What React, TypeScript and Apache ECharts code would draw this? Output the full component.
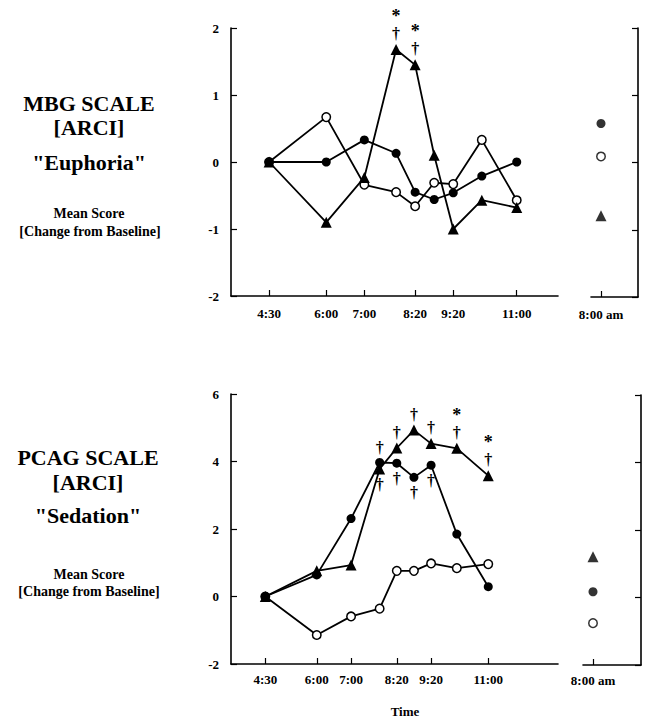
import React, { useEffect, useRef } from "react";
import * as echarts from "echarts";

// Time points (minutes after midnight)
const timePoints = [270, 360, 420, 470, 500, 530, 560, 605, 660];
const tickTimes = [270, 360, 420, 500, 560, 660];
const followUpTime = 480;
const followUpLabel = "8:00 am";

// MBG scale ("Euphoria")
const mbgFilled = [0, 0, 0.33, 0.13, -0.45, -0.56, -0.46, -0.21, 0];
const mbgOpen = [0, 0.67, -0.34, -0.45, -0.66, -0.31, -0.33, 0.33, -0.57];
const mbgTriangle = [0, -0.9, -0.23, 1.68, 1.45, 0.1, -1.0, -0.57, -0.68];
const mbgTriangleSig = ["", "", "", "*†", "*†", "", "", "", ""];
const mbgFollowFilled = 0.58;
const mbgFollowOpen = 0.09;
const mbgFollowTriangle = -0.79;

// PCAG scale ("Sedation")
const pcagFilled = [0, 0.64, 2.31, 3.97, 3.95, 3.53, 3.89, 1.85, 0.29];
const pcagOpen = [0, -1.14, -0.59, -0.36, 0.76, 0.76, 0.98, 0.84, 0.96];
const pcagTriangle = [0, 0.76, 0.93, 3.78, 4.4, 4.93, 4.53, 4.39, 3.58];
const pcagTriangleSig = ["", "", "", "†", "†", "†", "†", "*†", "*†"];
const pcagFilledSig = ["", "", "", "†", "†", "†", "†", "", ""];
const pcagFollowFilled = 0.17;
const pcagFollowOpen = -0.76;
const pcagFollowTriangle = 1.21;

const mbgTicks = { min: -2, max: 2, interval: 1 };
const pcagTicks = { min: -2, max: 6, interval: 2 };

const FONT = "'Liberation Serif', 'Times New Roman', serif";

const fmtTime = (m: number) => `${Math.floor(m / 60)}:${String(m % 60).padStart(2, "0")}`;

type Kind = "filled" | "open" | "triangle";

const symbolStyle = (kind: Kind) => {
  if (kind === "filled") return { symbol: "circle", symbolSize: 9, itemStyle: { color: "#000" } };
  if (kind === "open")
    return {
      symbol: "circle",
      symbolSize: 8.5,
      itemStyle: { color: "#fff", borderColor: "#000", borderWidth: 1.5 },
    };
  return { symbol: "triangle", symbolSize: 11, itemStyle: { color: "#000" } };
};

const sigRich = {
  s: { fontFamily: FONT, fontWeight: "bold", fontSize: 18, lineHeight: 18, color: "#000" },
  d: { fontFamily: FONT, fontWeight: "bold", fontSize: 16, lineHeight: 17, color: "#000" },
};

const lineSeries = (
  kind: Kind,
  vals: number[],
  axis: number,
  sig?: string[],
  other?: number[],
  z = 2
) => ({
  type: "line",
  xAxisIndex: axis,
  yAxisIndex: axis,
  z,
  ...symbolStyle(kind),
  lineStyle: { color: "#000", width: 1.8 },
  data: timePoints.map((t, i) => {
    const s = sig ? sig[i] : "";
    if (!s) return { value: [t, vals[i]] };
    const pos = other && vals[i] < other[i] ? "bottom" : "top";
    return {
      value: [t, vals[i]],
      label: {
        show: true,
        position: pos,
        distance: 2,
        formatter: s
          .split("")
          .map((c) => (c === "*" ? `{s|*}` : `{d|†}`))
          .join("\n"),
        rich: sigRich,
        color: "#000",
      },
    };
  }),
});

const followSeries = (kind: Kind, v: number, axis: number) => ({
  type: "scatter",
  xAxisIndex: axis,
  yAxisIndex: axis,
  ...symbolStyle(kind),
  data: [[followUpTime, v]],
});

const axisLine = { show: true, onZero: false, lineStyle: { color: "#000", width: 1.6 } };
const labelStyle = { fontFamily: FONT, fontWeight: "bold", fontSize: 13, color: "#000" };

const mainX = (grid: number, max: number, margin: number) => ({
  gridIndex: grid,
  type: "value",
  min: 210,
  max,
  axisLine,
  splitLine: { show: false },
  axisTick: {
    show: true,
    inside: true,
    length: 6,
    customValues: tickTimes,
    lineStyle: { color: "#000", width: 1.2 },
  },
  axisLabel: { ...labelStyle, margin, customValues: tickTimes, formatter: (v: number) => fmtTime(v) },
});

const followX = (grid: number, max: number, margin: number) => ({
  gridIndex: grid,
  type: "value",
  min: 470,
  max,
  axisLine,
  splitLine: { show: false },
  axisTick: {
    show: true,
    inside: true,
    length: 6,
    customValues: [followUpTime],
    lineStyle: { color: "#000", width: 1.2 },
  },
  axisLabel: { ...labelStyle, margin, customValues: [followUpTime], formatter: () => followUpLabel },
});

const yAx = (grid: number, t: { min: number; max: number; interval: number }, right: boolean) => ({
  gridIndex: grid,
  type: "value",
  position: right ? "right" : "left",
  min: t.min,
  max: t.max,
  interval: t.interval,
  axisLine,
  splitLine: { show: false },
  axisTick: { show: true, inside: true, length: 6, lineStyle: { color: "#000", width: 1.2 } },
  axisLabel: right ? { show: false } : { ...labelStyle, margin: 12 },
});

const text = (x: number, y: number, s: string, size: number) => ({
  type: "text",
  x,
  y,
  style: {
    text: s,
    font: `bold ${size}px ${FONT}`,
    fill: "#000",
    align: "center",
    verticalAlign: "middle",
  },
});

export default function App() {
  const ref = useRef<HTMLDivElement>(null);
  useEffect(() => {
    document.body.style.margin = "0";
    if (!ref.current) return;
    const chart = echarts.init(ref.current, undefined, { renderer: "svg" });
    chart.setOption({
      animation: false,
      backgroundColor: "#fff",
      grid: [
        { left: 231, top: 28, width: 327, height: 268 },
        { left: 591, top: 28, width: 47, height: 269 },
        { left: 231, top: 394, width: 327, height: 270 },
        { left: 583, top: 395, width: 58, height: 270 },
      ],
      xAxis: [mainX(0, 725, 11), followX(1, 517, 11), mainX(2, 782, 9), followX(3, 528, 9)],
      yAxis: [yAx(0, mbgTicks, false), yAx(1, mbgTicks, true), yAx(2, pcagTicks, false), yAx(3, pcagTicks, true)],
      series: [
        lineSeries("open", mbgOpen, 0),
        lineSeries("filled", mbgFilled, 0),
        lineSeries("triangle", mbgTriangle, 0, mbgTriangleSig, mbgFilled, 3),
        followSeries("filled", mbgFollowFilled, 1),
        followSeries("open", mbgFollowOpen, 1),
        followSeries("triangle", mbgFollowTriangle, 1),
        lineSeries("open", pcagOpen, 2),
        lineSeries("filled", pcagFilled, 2, pcagFilledSig, pcagTriangle),
        lineSeries("triangle", pcagTriangle, 2, pcagTriangleSig, pcagFilled, 3),
        followSeries("filled", pcagFollowFilled, 3),
        followSeries("open", pcagFollowOpen, 3),
        followSeries("triangle", pcagFollowTriangle, 3),
      ],
      graphic: [
        text(89, 103, "MBG SCALE", 22),
        text(89, 127.5, "[ARCI]", 22),
        text(89, 162.5, '"Euphoria"', 22),
        text(89, 213, "Mean Score", 14),
        text(90, 231.5, "[Change from Baseline]", 14),
        text(88, 457, "PCAG SCALE", 22),
        text(88, 482, "[ARCI]", 22),
        text(88, 515, '"Sedation"', 22),
        text(89, 574, "Mean Score", 14),
        text(89, 591, "[Change from Baseline]", 14),
        text(405, 711, "Time", 13),
      ],
    });
    return () => chart.dispose();
  }, []);
  return <div ref={ref} style={{ width: 650, height: 721 }} />;
}
